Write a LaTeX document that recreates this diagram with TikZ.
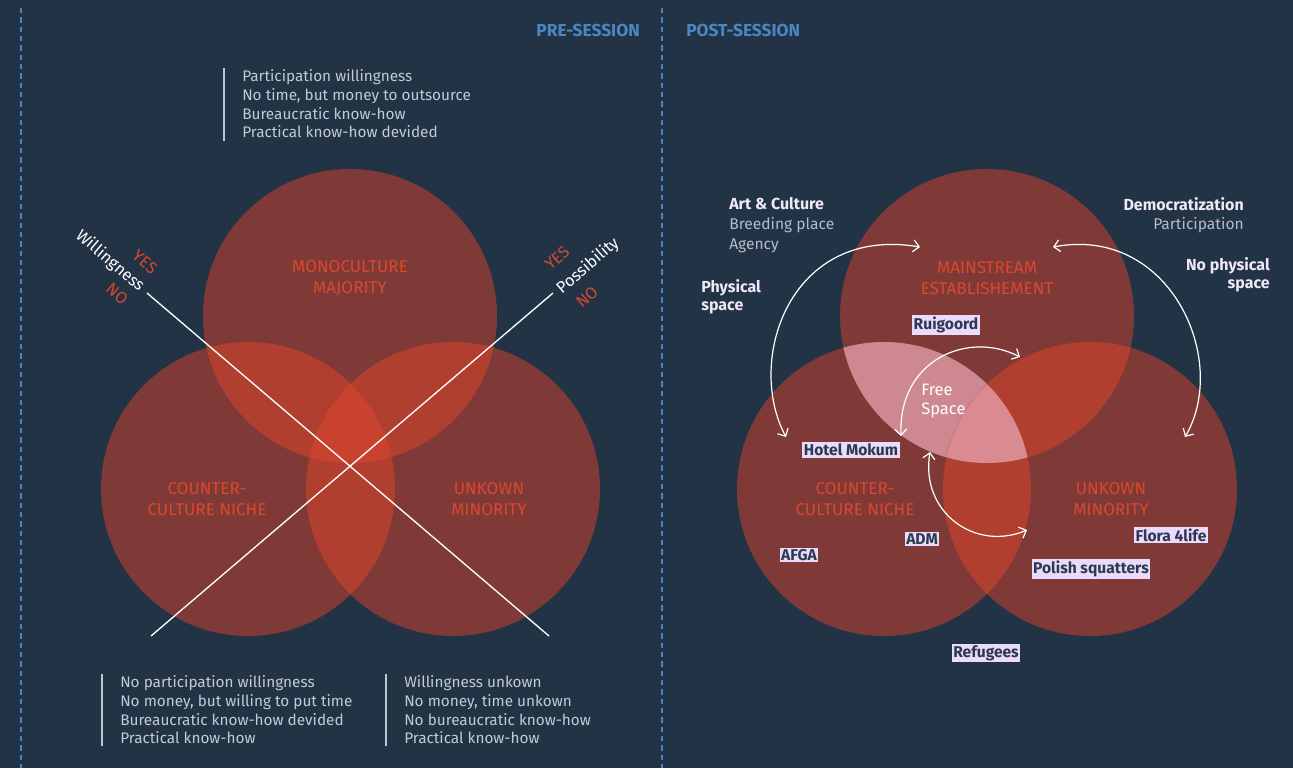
\documentclass[tikz,border=0pt]{standalone}
\usepackage{fontspec}
\setmainfont{Fira Sans}
\usetikzlibrary{arrows.meta}

\definecolor{bg}{HTML}{213345}
\definecolor{vone}{HTML}{7F3A38}
\definecolor{vtwo}{HTML}{B03F30}
\definecolor{vthree}{HTML}{C9422F}
\definecolor{vlens}{HTML}{CD8890}
\definecolor{vlenscore}{HTML}{D98B91}
\definecolor{setlabel}{HTML}{DA472E}
\definecolor{headblue}{HTML}{4A86C4}
\definecolor{bodytext}{HTML}{C5CAD2}
\definecolor{softtext}{HTML}{B7BACA}
\definecolor{bar}{HTML}{BFC4CB}
\definecolor{tagbg}{HTML}{EADAFB}
\definecolor{tagtext}{HTML}{2C3A4E}
\definecolor{whitetext}{HTML}{EFE8F7}

\tikzset{
  sessionhead/.style={text=headblue, font=\fontsize{13}{14}\selectfont\bfseries, inner sep=0pt},
  divider/.style={draw=headblue, line width=0.9pt, dash pattern=on 4pt off 3pt},
  infobar/.style={draw=bar, line width=1.4pt},
  infotext/.style={text=bodytext, font=\fontsize{11.5}{14}\selectfont, align=left, inner sep=0pt, anchor=west},
  setname/.style={text=setlabel, font=\fontsize{12.8}{15.75}\selectfont, align=center, inner sep=0pt},
  axis/.style={draw=white, line width=1pt},
  axisname/.style={text=white, font=\fontsize{12.3}{13}\selectfont, inner sep=0pt},
  axisvalue/.style={text=setlabel, font=\fontsize{12.3}{13}\selectfont, inner sep=0pt},
  theme/.style={text=whitetext, font=\fontsize{12}{13.5}\selectfont\bfseries, inner sep=0pt},
  themesub/.style={text=softtext, font=\fontsize{11.7}{13.5}\selectfont, inner sep=0pt},
  tag/.style={fill=tagbg, text=tagtext, font=\fontsize{11.7}{13}\selectfont\bfseries, inner sep=1.2pt},
  flow/.style={draw=white, line width=0.9pt, {Straight Barb[length=4.5pt,width=9pt]}-{Straight Barb[length=4.5pt,width=9pt]}},
  R/.style={radius=110.25pt}
}

\begin{document}
\begin{tikzpicture}[x=0.75pt,y=-0.75pt]
% canvas
\fill[bg] (0,0) rectangle (1293,768);
\useasboundingbox (0,0) rectangle (1293,768);

% session dividers and headers
\coordinate (d1a) at (21,8);   \coordinate (d1b) at (21,768);
\coordinate (d2a) at (662,8);  \coordinate (d2b) at (662,768);
\draw[divider] (d1a) -- (d1b);
\draw[divider] (d2a) -- (d2b);
\node[sessionhead, anchor=east] (pre) at (640,30) {PRE-SESSION};
\node[sessionhead, anchor=west] (post) at (686,30) {POST-SESSION};

% ---------- pre-session Venn ----------
\fill[vone] (350,316) circle[R];
\fill[vone] (248,489) circle[R];
\fill[vone] (453,489) circle[R];
\begin{scope}
  \clip (350,316) circle[R];
  \fill[vtwo] (248,489) circle[R];
  \fill[vtwo] (453,489) circle[R];
\end{scope}
\begin{scope}
  \clip (248,489) circle[R];
  \fill[vtwo] (453,489) circle[R];
\end{scope}
\begin{scope}
  \clip (350,316) circle[R];
  \clip (248,489) circle[R];
  \fill[vthree] (453,489) circle[R];
\end{scope}

\node[setname] (mono) at (350,278) {MONOCULTURE\\MAJORITY};
\node[setname] (niche) at (207,499) {COUNTER-\\CULTURE NICHE};
\node[setname] (minor) at (489,499) {UNKOWN\\MINORITY};

% axes
\coordinate (w1) at (147,293); \coordinate (w2) at (549,636);
\coordinate (p1) at (553,293); \coordinate (p2) at (151,636);
\draw[axis] (w1) -- (w2);
\draw[axis] (p1) -- (p2);
\node[axisname, rotate=-40.6] (will) at (110,261) {Willingness};
\node[axisvalue, rotate=-40.6] (willyes) at (145,262) {YES};
\node[axisvalue, rotate=-40.6] (willno) at (117,294) {NO};
\node[axisname, rotate=40.6] (poss) at (588,266) {Possibility};
\node[axisvalue, rotate=40.6] (possyes) at (557,258) {YES};
\node[axisvalue, rotate=40.6] (possno) at (587,297) {NO};

% group descriptions
\coordinate (b1a) at (224,68);  \coordinate (b1b) at (224,141);
\draw[infobar] (b1a) -- (b1b);
\node[infotext] (monotxt) at (242,104) {Participation willingness\\No time, but money to outsource\\Bureaucratic know-how\\Practical know-how devided};
\coordinate (b2a) at (102,674); \coordinate (b2b) at (102,746);
\draw[infobar] (b2a) -- (b2b);
\node[infotext] (nichetxt) at (120,710) {No participation willingness\\No money, but willing to put time\\Bureaucratic know-how devided\\Practical know-how};
\coordinate (b3a) at (386,674); \coordinate (b3b) at (386,746);
\draw[infobar] (b3a) -- (b3b);
\node[infotext] (minortxt) at (404,710) {Willingness unkown\\No money, time unkown\\No bureaucratic know-how\\Practical know-how};

% ---------- post-session Venn ----------
\fill[vone] (987,316) circle[R];
\fill[vone] (884,489) circle[R];
\fill[vone] (1090,489) circle[R];
\begin{scope}
  \clip (987,316) circle[R];
  \fill[vlens] (884,489) circle[R];
  \fill[vtwo] (1090,489) circle[R];
\end{scope}
\begin{scope}
  \clip (884,489) circle[R];
  \fill[vtwo] (1090,489) circle[R];
\end{scope}
\begin{scope}
  \clip (987,316) circle[R];
  \clip (884,489) circle[R];
  \fill[vlenscore] (1090,489) circle[R];
\end{scope}

\node[setname] (main) at (987,278) {MAINSTREAM\\ESTABLISHEMENT};
\node[setname] (niche2) at (855,499) {COUNTER-\\CULTURE NICHE};
\node[setname] (minor2) at (1111,499) {UNKOWN\\MINORITY};
\node[text=white, font=\fontsize{12.4}{13.8}\selectfont, align=left, inner sep=0pt, anchor=west] (free) at (921,401) {Free\\Space};

% themes
\node[theme, anchor=west] (art) at (729,204) {Art \& Culture};
\node[themesub, anchor=west] (breed) at (729,225) {Breeding place};
\node[themesub, anchor=west] (agency) at (729,246) {Agency};
\node[theme, anchor=east] (demo) at (1244,204) {Democratization};
\node[themesub, anchor=east] (part) at (1244,225) {Participation};
\node[theme, anchor=west, align=left] (phys) at (701,297) {Physical\\space};
\node[theme, anchor=east, align=right] (nophys) at (1270,275) {No physical\\space};

% movements between the sets
\coordinate (a1) at (920,247); \coordinate (a2) at (786,437);
\coordinate (c1) at (1053,247); \coordinate (c2) at (1185,437);
\coordinate (f1) at (901,436); \coordinate (f2) at (1020,357);
\coordinate (g1) at (930,452); \coordinate (g2) at (1027,530);
\draw[flow] (a1) .. controls (790,225) and (745,360) .. (a2);
\draw[flow] (c1) .. controls (1170,225) and (1230,360) .. (c2);
\draw[flow] (f1) .. controls (898,360) and (968,330) .. (f2);
\draw[flow] (g1) .. controls (920,512) and (975,552) .. (g2);

% initiatives
\node[tag] (ruig) at (946,325) {Ruigoord};
\node[tag] (mokum) at (851,450) {Hotel Mokum};
\node[tag] (afga) at (799,555) {AFGA};
\node[tag] (adm) at (922,539) {ADM};
\node[tag] (flora) at (1171,535) {Flora 4life};
\node[tag] (polish) at (1091,569) {Polish squatters};
\node[tag] (refug) at (986,653) {Refugees};
\end{tikzpicture}
\end{document}
